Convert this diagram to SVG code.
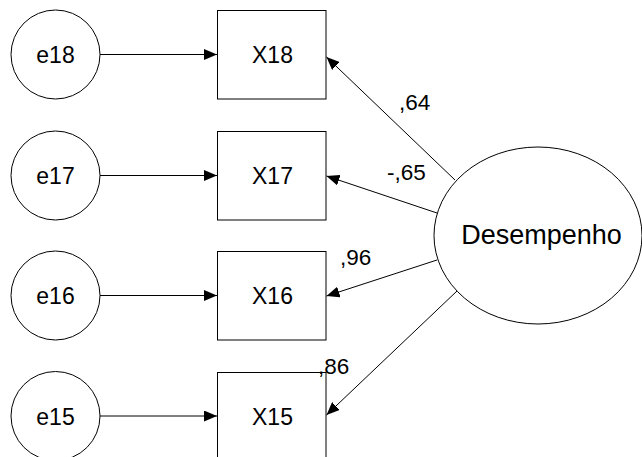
<svg xmlns="http://www.w3.org/2000/svg" width="642" height="457" viewBox="0 0 642 457">
  <style>
    .shape { fill: #fff; stroke: #000; stroke-width: 1; }
    .edge { stroke: #000; stroke-width: 1; fill: none; marker-end: url(#arrow); }
    .lbl { font-family: "Liberation Sans", Arial, sans-serif; font-size: 22.5px; fill: #000; }
    .node { font-size: 23px; }
    .mid { text-anchor: middle; }
  </style>
  <defs>
    <marker id="arrow" markerUnits="userSpaceOnUse" markerWidth="14" markerHeight="11" refX="13" refY="5.5" orient="auto">
      <path d="M0,0 L13,5.5 L0,11 z" fill="#000"/>
    </marker>
  </defs>

  <rect width="642" height="457" fill="#fff"/>

  <!-- error terms -->
  <g id="e18"><circle class="shape" cx="55.5" cy="54.5" r="44.5"/><text class="lbl node mid" x="55.5" y="63">e18</text></g>
  <g id="e17"><circle class="shape" cx="55.5" cy="175.5" r="44.5"/><text class="lbl node mid" x="55.5" y="184">e17</text></g>
  <g id="e16"><circle class="shape" cx="55.5" cy="295.5" r="44.5"/><text class="lbl node mid" x="55.5" y="304">e16</text></g>
  <g id="e15"><circle class="shape" cx="55.5" cy="416" r="44.5"/><text class="lbl node mid" x="55.5" y="424.5">e15</text></g>

  <!-- observed variables -->
  <g id="X18"><rect class="shape" x="217.5" y="10.5" width="108.5" height="88.5"/><text class="lbl node mid" x="272.5" y="63">X18</text></g>
  <g id="X17"><rect class="shape" x="217.5" y="131.5" width="108.5" height="88.5"/><text class="lbl node mid" x="272.5" y="184">X17</text></g>
  <g id="X16"><rect class="shape" x="217.5" y="251.5" width="108.5" height="88.5"/><text class="lbl node mid" x="272.5" y="304">X16</text></g>
  <g id="X15"><rect class="shape" x="217.5" y="372.5" width="108.5" height="88.5"/><text class="lbl node mid" x="272.5" y="424.5">X15</text></g>

  <!-- latent factor -->
  <g id="Desempenho"><ellipse class="shape" cx="538" cy="235.5" rx="104" ry="88.5"/><text class="lbl mid" x="541.5" y="243.5" style="font-size:27px">Desempenho</text></g>

  <!-- paths -->
  <g id="connectors">
    <line class="edge" x1="100" y1="54.5" x2="217" y2="54.5"/>
    <line class="edge" x1="100" y1="175.5" x2="217" y2="175.5"/>
    <line class="edge" x1="100" y1="295.5" x2="217" y2="295.5"/>
    <line class="edge" x1="100" y1="416" x2="217" y2="416"/>
    <line class="edge" x1="455" y1="180" x2="326.5" y2="57"/>
    <line class="edge" x1="437" y1="213" x2="326.5" y2="176"/>
    <line class="edge" x1="437" y1="260" x2="326.5" y2="296"/>
    <line class="edge" x1="457" y1="291" x2="326.5" y2="415"/>
  </g>

  <!-- loadings -->
  <g id="loadings">
    <text class="lbl" x="399" y="110">,64</text>
    <text class="lbl" x="387" y="180">-,65</text>
    <text class="lbl" x="340" y="265">,96</text>
    <text class="lbl" x="318" y="374">,86</text>
  </g>
</svg>
